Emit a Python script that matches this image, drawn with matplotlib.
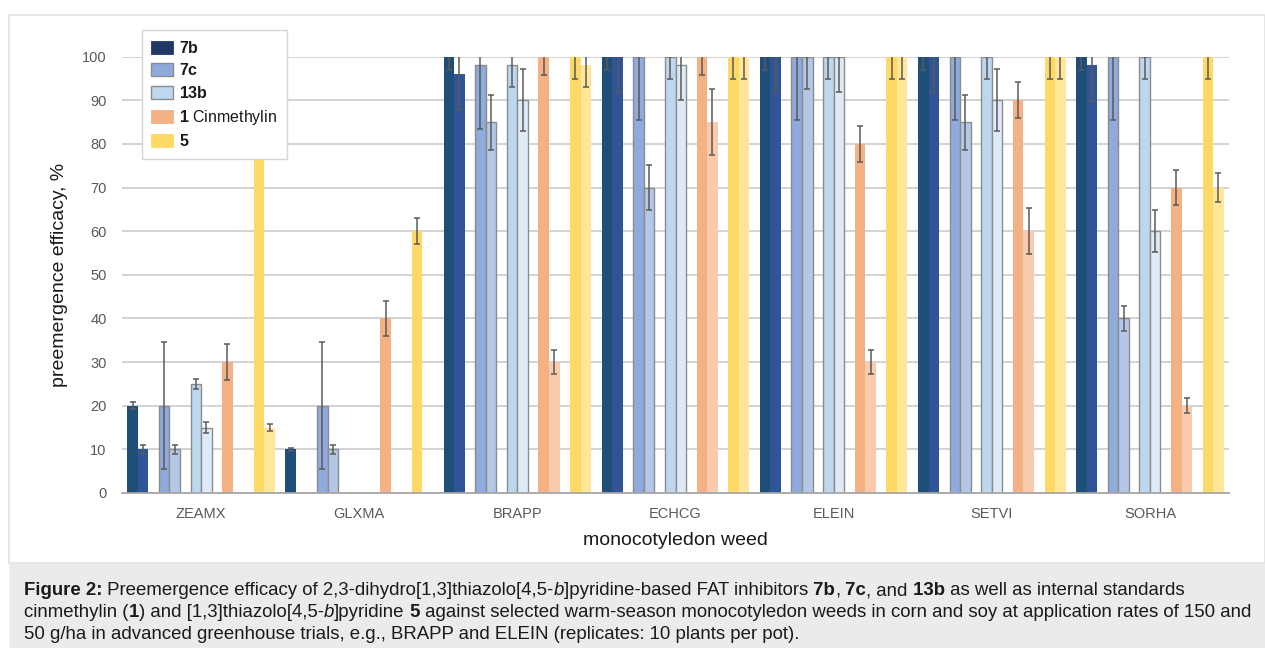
import matplotlib
matplotlib.use("Agg")
import matplotlib.pyplot as plt
from matplotlib.patches import Patch, Rectangle
import numpy as np

plt.rcParams['font.family'] = ['Liberation Sans', 'DejaVu Sans']
plt.rcParams['mathtext.fontset'] = 'custom'
plt.rcParams['mathtext.rm'] = 'Liberation Sans'
plt.rcParams['mathtext.bf'] = 'Liberation Sans:bold'
plt.rcParams['mathtext.it'] = 'Liberation Sans:italic'

# ---------------- data ----------------
weeds = ["ZEAMX", "GLXMA", "BRAPP", "ECHCG", "ELEIN", "SETVI", "SORHA"]
compounds = ["7b", "7c", "13b", "1 Cinmethylin", "5"]

v_7b_150 = [20, 10, 100, 100, 100, 100, 100]
v_7b_50 = [10, 0, 96, 100, 100, 100, 98]
v_7c_150 = [20, 20, 98, 100, 100, 100, 100]
v_7c_50 = [10, 10, 85, 70, 100, 85, 40]
v_13b_150 = [25, 0, 98, 100, 100, 100, 100]
v_13b_50 = [15, 0, 90, 98, 100, 90, 60]
v_1_150 = [30, 40, 100, 100, 80, 90, 70]
v_1_50 = [0, 0, 30, 85, 30, 60, 20]
v_5_150 = [100, 60, 100, 100, 100, 100, 100]
v_5_50 = [15, 0, 98, 100, 100, 100, 70]

e_7b_150 = [0.8, 0.3, 3, 3, 3, 3, 3]
e_7b_50 = [1, 0, 8.2, 8.2, 8.2, 8.2, 8.2]
e_7c_150 = [14.6, 14.6, 14.6, 14.6, 14.6, 14.6, 14.6]
e_7c_50 = [1, 1, 6.3, 5.1, 7.4, 6.3, 2.9]
e_13b_150 = [1.2, 0, 5, 5.2, 5.2, 5.2, 5.2]
e_13b_50 = [1.2, 0, 7.1, 7.9, 8, 7.1, 4.8]
e_1_150 = [4.2, 4.1, 4.2, 4.2, 4.1, 4.1, 4.1]
e_1_50 = [0, 0, 2.7, 7.5, 2.7, 5.3, 1.7]
e_5_150 = [5.2, 3, 5.2, 5.2, 5.2, 5.2, 5.2]
e_5_50 = [0.8, 0, 5, 5.2, 5.2, 5.2, 3.4]

yticks = list(range(0, 101, 10))

# ---------------- styling ----------------
series = [
    (v_7b_150, e_7b_150, '#1F4E79', 'none'),
    (v_7b_50, e_7b_50, '#2F5597', 'none'),
    (v_7c_150, e_7c_150, '#8FAADC', '#8C8C8C'),
    (v_7c_50, e_7c_50, '#B4C7E7', '#8C8C8C'),
    (v_13b_150, e_13b_150, '#BDD7EE', '#8C8C8C'),
    (v_13b_50, e_13b_50, '#DEEBF7', '#8C8C8C'),
    (v_1_150, e_1_150, '#F4B183', 'none'),
    (v_1_50, e_1_50, '#F8CBAD', 'none'),
    (v_5_150, e_5_150, '#FFD966', 'none'),
    (v_5_50, e_5_50, '#FFE699', 'none'),
]

W, H = 1265, 648
fig = plt.figure(figsize=(W / 100, H / 100), dpi=100)

# outer frame + caption box
fig.add_artist(Rectangle((9 / W, 1 - 563 / H), (W - 9) / W, (563 - 15) / H,
                         transform=fig.transFigure, facecolor='white',
                         edgecolor='#E2E2E2', lw=1.2, zorder=0))
fig.add_artist(Rectangle((9 / W, 0), (W - 9) / W, (648 - 563) / H,
                         transform=fig.transFigure, facecolor='#EBEBEB',
                         edgecolor='none', zorder=0))

ax = fig.add_axes([122 / W, 1 - 493 / H, (1229 - 122) / W, (493 - 56.7) / H])
ax.set_facecolor('none')

x = np.arange(len(weeds))
width = 1 / 15
for idx, (vals, errs, col, ec) in enumerate(series):
    j, r = divmod(idx, 2)
    k = 3 * j + r
    pos = x + (k - 6.5) / 15
    ax.bar(pos, vals, width=width, color=col, edgecolor=ec,
           linewidth=1.0 if ec != 'none' else 0, zorder=2)
    vals_a = np.array(vals, dtype=float)
    errs_a = np.array(errs, dtype=float)
    m = errs_a > 0
    ax.errorbar(pos[m], vals_a[m], yerr=errs_a[m], fmt='none',
                ecolor='#5A5A5A', elinewidth=1.1, capsize=2.3,
                capthick=1.1, zorder=3)

ax.set_xlim(-0.5, len(weeds) - 0.5)
ax.set_ylim(0, 100)
ax.set_yticks(yticks)
ax.set_xticks(x)
ax.set_xticklabels(weeds)
ax.yaxis.grid(True, color='#C8C8C8', linewidth=1.1)
ax.set_axisbelow(True)
for s in ['top', 'right', 'left']:
    ax.spines[s].set_visible(False)
ax.spines['bottom'].set_color('#A6A6A6')
ax.spines['bottom'].set_linewidth(1.3)
ax.spines['bottom'].set_zorder(4)
ax.tick_params(axis='both', length=0, labelsize=10.5, colors='#595959')
ax.tick_params(axis='y', pad=11)
ax.tick_params(axis='x', pad=10)
ax.set_xlabel("monocotyledon weed", fontsize=14, color='#1A1A1A', labelpad=8)
ax.set_ylabel("preemergence efficacy, %", fontsize=14, color='#1A1A1A', labelpad=10)

# legend
handles = [
    Patch(facecolor='#203864', edgecolor='#203864', lw=0.6),
    Patch(facecolor='#8FAADC', edgecolor='#8C8C8C', lw=1.0),
    Patch(facecolor='#BDD7EE', edgecolor='#8C8C8C', lw=1.0),
    Patch(facecolor='#F4B183', edgecolor='#F4B183', lw=0.6),
    Patch(facecolor='#FFD966', edgecolor='#FFD966', lw=0.6),
]
labels = [r"$\mathbf{7b}$", r"$\mathbf{7c}$", r"$\mathbf{13b}$",
          r"$\mathbf{1}$ Cinmethylin", r"$\mathbf{5}$"]
leg = ax.legend(handles, labels, loc='upper left',
                bbox_to_anchor=(141.7 / W, 1 - 30 / H), bbox_transform=fig.transFigure,
                borderaxespad=0, fontsize=11.5, frameon=True, fancybox=False,
                framealpha=1, edgecolor='#D6D6D6', handlelength=1.35,
                handleheight=0.88, labelspacing=0.42, handletextpad=0.4,
                borderpad=0.6)
leg.get_frame().set_linewidth(1.0)
leg.set_zorder(10)
for t in leg.get_texts():
    t.set_color('#1A1A1A')

# caption with mixed styles
cap_fs = 13.4
lines = [
    [("Figure 2:", 'bold', 'normal'),
     (" Preemergence efficacy of 2,3-dihydro[1,3]thiazolo[4,5-", 'normal', 'normal'),
     ("b", 'normal', 'italic'),
     ("]pyridine-based FAT inhibitors", 'normal', 'normal'),
     (" 7b", 'bold', 'normal'), (",", 'normal', 'normal'),
     (" 7c", 'bold', 'normal'), (", and", 'normal', 'normal'),
     (" 13b", 'bold', 'normal'),
     (" as well as internal standards", 'normal', 'normal')],
    [("cinmethylin (", 'normal', 'normal'), ("1", 'bold', 'normal'),
     (") and [1,3]thiazolo[4,5-", 'normal', 'normal'), ("b", 'normal', 'italic'),
     ("]pyridine", 'normal', 'normal'), (" 5", 'bold', 'normal'),
     (" against selected warm-season monocotyledon weeds in corn and soy at application rates of 150 and",
      'normal', 'normal')],
    [("50 g/ha in advanced greenhouse trials, e.g., BRAPP and ELEIN (replicates: 10 plants per pot).",
      'normal', 'normal')],
]
baselines = [595, 617, 639]
for segs, by in zip(lines, baselines):
    prev = None
    for s, wt, st in segs:
        if prev is None:
            prev = fig.text(24 / W, 1 - by / H, s, fontsize=cap_fs, fontweight=wt,
                            fontstyle=st, color='#1A1A1A', va='baseline', ha='left')
        else:
            prev = ax.annotate(s, xy=(1, 0), xycoords=prev, va='bottom', ha='left',
                               fontsize=cap_fs, fontweight=wt, fontstyle=st,
                               color='#1A1A1A', annotation_clip=False)

fig.savefig("out.png", dpi=100)
